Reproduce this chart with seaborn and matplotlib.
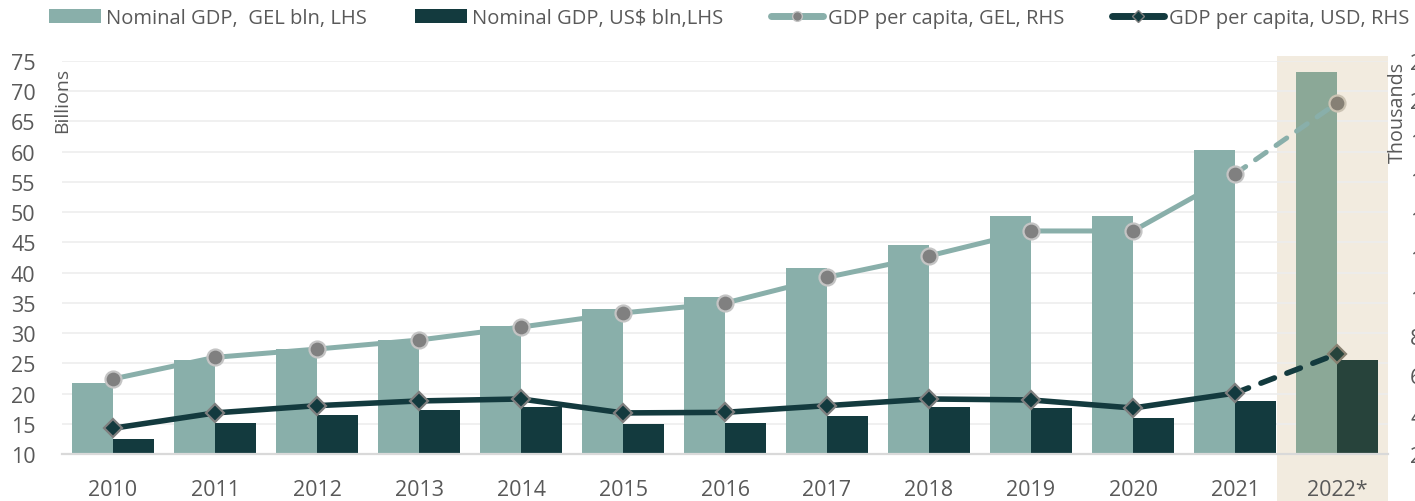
import numpy as np
import pandas as pd
import matplotlib
matplotlib.use("Agg")
import matplotlib.pyplot as plt
import matplotlib.transforms as mtransforms
from matplotlib.patches import Rectangle, Patch
from matplotlib.lines import Line2D
import seaborn as sns

# ---------------- data ----------------
years = ["2010", "2011", "2012", "2013", "2014", "2015", "2016",
         "2017", "2018", "2019", "2020", "2021", "2022*"]
gdp_gel_bln = [21.8, 25.5, 27.3, 28.9, 31.2, 34.0, 35.9, 40.8, 44.6, 49.3, 49.3, 60.2, 73.1]
gdp_usd_bln = [12.4, 15.2, 16.5, 17.3, 17.8, 15.0, 15.2, 16.3, 17.7, 17.6, 16.0, 18.7, 25.6]
gdp_pc_gel_th = [5.82, 6.92, 7.34, 7.80, 8.46, 9.18, 9.68, 10.99, 12.08, 13.35, 13.35, 16.25, 19.86]
gdp_pc_usd_th = [3.31, 4.09, 4.46, 4.70, 4.80, 4.09, 4.12, 4.46, 4.80, 4.75, 4.34, 5.10, 7.09]

left_ticks = list(range(10, 80, 5))
right_ticks = list(range(2, 24, 2))

labels = ["Nominal GDP,  GEL bln, LHS", "Nominal GDP, US$ bln,LHS",
          "GDP per capita, GEL, RHS", "GDP per capita, USD, RHS"]

# ---------------- style ----------------
c_gel = "#89AFAA"
c_usd = "#133A3E"
c_gel_f = "#8BA897"
c_usd_f = "#27433B"
c_text = "#595959"
c_band = "#F2EBDF"

sns.set_theme(style="white")
plt.rcParams["font.family"] = ["Open Sans", "DejaVu Sans"]

W, H = 1415, 502
fig = plt.figure(figsize=(W / 100, H / 100), dpi=100)
fig.patch.set_facecolor("white")
ax = fig.add_axes([62 / W, 1 - 455 / H, 1326 / W, 393 / H])
ax.set_facecolor("none")

df = pd.DataFrame({
    "year": years * 2,
    "value": gdp_gel_bln + gdp_usd_bln,
    "series": [labels[0]] * len(years) + [labels[1]] * len(years),
})
sns.barplot(data=df, x="year", y="value", hue="series", order=years,
            hue_order=labels[:2], palette=[c_gel, c_usd], dodge=True,
            width=0.8, saturation=1, legend=False, linewidth=0, ax=ax, zorder=2)
ax.containers[0][-1].set_facecolor(c_gel_f)
ax.containers[1][-1].set_facecolor(c_usd_f)

n = len(years)
ax.set_xlim(-0.5, n - 0.5)
ax.set_ylim(left_ticks[0], left_ticks[-1])
ax.set_yticks(left_ticks)
ax.set_xlabel("")
ax.set_ylabel("")
ax.set_axisbelow(True)
ax.yaxis.grid(True, color="#EDEDED", lw=1.2)
ax.xaxis.grid(False)
for s in ["left", "right", "top"]:
    ax.spines[s].set_visible(False)
ax.spines["bottom"].set_color("#D9D9D9")
ax.spines["bottom"].set_linewidth(1.6)
ax.tick_params(axis="both", length=0, labelsize=15.5, colors=c_text)
ax.tick_params(axis="y", pad=19)
ax.tick_params(axis="x", pad=18)

# highlight band for forecast year
trans = mtransforms.blended_transform_factory(ax.transData, fig.transFigure)
band = Rectangle((n - 1 - 0.59, 0), 1.09, 1 - 57 / H, transform=trans,
                 facecolor=c_band, edgecolor="none", zorder=0, clip_on=False)
ax.add_patch(band)

ax.text(0.0, 1 - 6 / 393, "Billions", rotation=90, ha="center", va="top",
        transform=ax.transAxes, fontsize=14, color=c_text)

# ---------------- right axis lines ----------------
ax2 = ax.twinx()
ax2.set_ylim(right_ticks[0], right_ticks[-1])
ax2.set_yticks(right_ticks)
for s in ax2.spines.values():
    s.set_visible(False)
ax2.grid(False)
ax2.tick_params(axis="y", length=0, labelsize=15.5, colors=c_text, pad=16)
ax2.set_ylabel("")
ax2.text(1.0075, 1.0, "Thousands", rotation=90, ha="center", va="top",
         transform=ax2.transAxes, fontsize=14.2, color=c_text)

x = np.arange(n)
gel = np.array(gdp_pc_gel_th)
usd = np.array(gdp_pc_usd_th)

sns.lineplot(x=x[:-1], y=gel[:-1], ax=ax2, color=c_gel, lw=3.6, zorder=3)
sns.lineplot(x=x[:-1], y=usd[:-1], ax=ax2, color=c_usd, lw=4.0, zorder=3)
ax2.plot(x[-2:], gel[-2:], color=c_gel, lw=3.6, ls=(0, (2.6, 2.4)),
         dash_capstyle="round", zorder=3)
ax2.plot(x[-2:], usd[-2:], color=c_usd, lw=4.0, ls=(0, (2.6, 2.4)),
         dash_capstyle="round", zorder=3)

ax2.plot(x[:-1], gel[:-1], ls="none", marker="o", ms=11.5, mfc="#808080",
         mec="#C4C4C4", mew=1.6, zorder=4)
ax2.plot(x[-1:], gel[-1:], ls="none", marker="o", ms=11.5, mfc="#868075",
         mec="#CBC3B3", mew=1.6, zorder=4)
ax2.plot(x[:-1], usd[:-1], ls="none", marker="D", ms=9, mfc=c_usd,
         mec="#7F7F7F", mew=1.6, zorder=4)
ax2.plot(x[-1:], usd[-1:], ls="none", marker="D", ms=9, mfc=c_usd_f,
         mec="#8A8272", mew=1.6, zorder=4)

# ---------------- legend ----------------
handles = [
    Patch(facecolor=c_gel, edgecolor="none"),
    Patch(facecolor=c_usd, edgecolor="none"),
    Line2D([], [], color=c_gel, lw=5, marker="o", ms=7, mfc="#808080", mec="#C4C4C4",
           solid_capstyle="round"),
    Line2D([], [], color=c_usd, lw=5, marker="D", ms=6, mfc=c_usd, mec="#7F7F7F",
           solid_capstyle="round"),
]
leg = fig.legend(handles, labels, loc="center left", bbox_to_anchor=(49 / W, 1 - 19 / H),
                 ncol=4, frameon=False, fontsize=14.5, handlelength=2.6,
                 handleheight=0.65, handletextpad=0.25, columnspacing=2.35,
                 borderpad=0, borderaxespad=0)
for t in leg.get_texts():
    t.set_color(c_text)

fig.savefig("out.png", dpi=100)
